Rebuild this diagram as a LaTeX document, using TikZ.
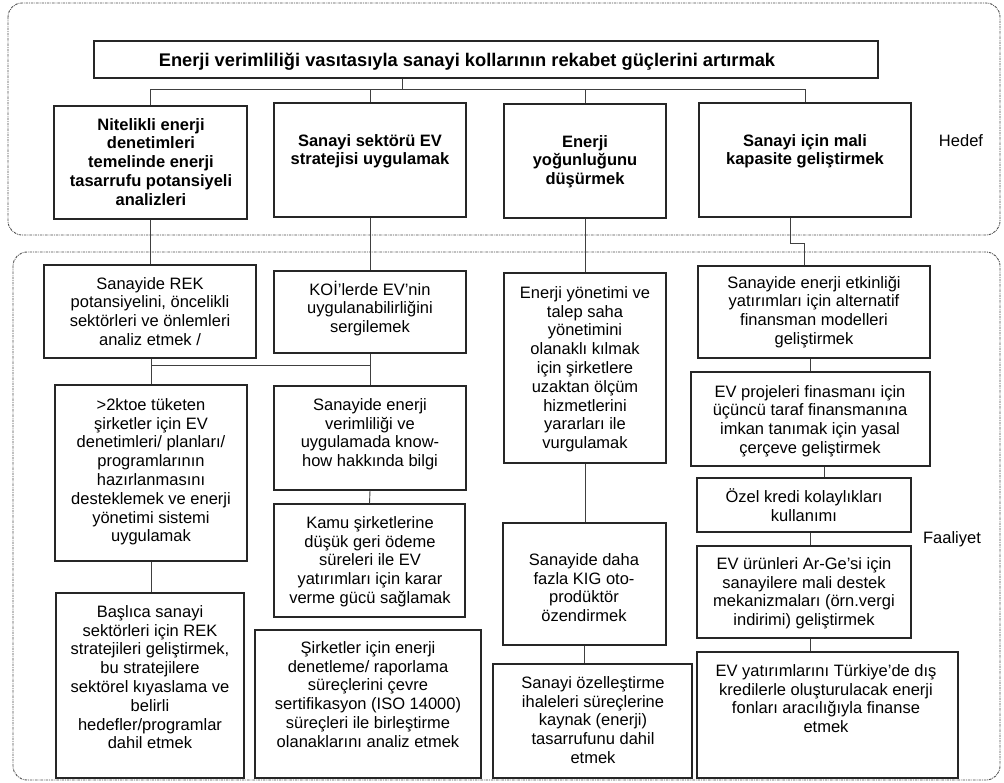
\documentclass[tikz,border=0pt]{standalone}
\usepackage{fontspec}
\setmainfont{Liberation Sans}
\tikzset{
 box/.style={draw=black!85, line width=1.1pt, inner sep=0pt, rectangle},
 txt/.style={inner sep=0pt, align=center, font=\fontsize{16.5}{18.8}\selectfont},
 btxt/.style={inner sep=0pt, align=center, font=\fontsize{16.5}{18.8}\selectfont\bfseries},
 ttxt/.style={inner sep=0pt, align=center, font=\fontsize{18.3}{20}\selectfont\bfseries},
 conn/.style={draw=black!75, line width=0.9pt},
 frame/.style={draw=black!70, line width=0.9pt, rounded corners=14pt, dash pattern=on 2.5pt off 1pt on 0.8pt off 1pt},
 lbl/.style={inner sep=0pt, font=\fontsize{16.5}{18.8}\selectfont, anchor=base},
}
% #1 text style, #2 name, #3 x1, #4 y1, #5 x2, #6 y2, #7 text centre x, #8 first baseline, #9 text
\newcommand\mybox[9][txt]{%
  \node[box, minimum width={(#5-#3)*1pt}, minimum height={(#6-#4)*1pt}] (#2) at ({(#3+#5)/2},{(#4+#6)/2}) {};
  \node[#1, anchor=north] (#2-t) at (#7,{#8-16}) {\rule{0pt}{16pt}#9};
}
\begin{document}
\begin{tikzpicture}[x=1pt,y=-1pt]
\useasboundingbox (0,0) rectangle (1004,783);
% frames
\draw[frame] (8,3) rectangle (1000,235);
\draw[frame] (13,252) rectangle (1000,780);
\node[lbl] (hedef) at (961,147) {Hedef};
\node[lbl] (faaliyet) at (952,543) {Faaliyet};
% goal boxes
\mybox[ttxt]{t}{94}{41}{878}{78}{467}{66}{Enerji verimliliği vasıtasıyla sanayi kollarının rekabet güçlerini artırmak}
\mybox[btxt]{h1}{54}{106}{247}{219}{151}{130}{Nitelikli enerji\\denetimleri\\temelinde enerji\\tasarrufu potansiyeli\\analizleri}
\mybox[btxt]{h2}{274}{103}{466}{217}{370}{146}{Sanayi sektörü EV\\stratejisi uygulamak}
\mybox[btxt]{h3}{504}{104}{666}{218}{585}{147}{Enerji\\yoğunluğunu\\düşürmek}
\mybox[btxt]{h4}{699}{103}{911}{217}{805}{146}{Sanayi için mali\\kapasite geliştirmek}
% activity boxes
\mybox{f1a}{44}{265}{256}{358}{150}{289}{Sanayide REK\\potansiyelini, öncelikli\\sektörleri ve önlemleri\\analiz etmek /}
\mybox{f2a}{274}{271}{466}{353}{370}{295}{KOİ’lerde EV’nin\\uygulanabilirliğini\\sergilemek}
\mybox{f1b}{55}{385}{247}{561}{151}{410}{>2ktoe tüketen\\şirketler için EV\\denetimleri/ planları/\\programlarının\\hazırlanmasını\\desteklemek ve enerji\\yönetimi sistemi\\uygulamak}
\mybox{f2b}{274}{386}{466}{490}{370}{410}{Sanayide enerji\\verimliliği ve\\uygulamada know-\\how hakkında bilgi}
\mybox{f2c}{274}{504}{465}{617}{370}{528}{Kamu şirketlerine\\düşük geri ödeme\\süreleri ile EV\\yatırımları için karar\\verme gücü sağlamak}
\mybox{f2d}{255}{630}{481}{778}{368}{653}{Şirketler için enerji\\denetleme/ raporlama\\süreçlerini çevre\\sertifikasyon (ISO 14000)\\süreçleri ile birleştirme\\olanaklarını analiz etmek}
\mybox{f1c}{56}{593}{244}{778}{150}{617}{Başlıca sanayi\\sektörleri için REK\\stratejileri geliştirmek,\\bu stratejilere\\sektörel kıyaslama ve\\belirli\\hedefler/programlar\\dahil etmek}
\mybox{f3a}{504}{273}{666}{463}{585}{298}{Enerji yönetimi ve\\talep saha\\yönetimini\\olanaklı kılmak\\için şirketlere\\uzaktan ölçüm\\hizmetlerini\\yararları ile\\vurgulamak}
\mybox{f3b}{503}{523}{666}{645}{584}{565}{Sanayide daha\\fazla KIG oto-\\prodüktör\\özendirmek}
\mybox{f3c}{493}{664}{692}{778}{593}{688}{Sanayi özelleştirme\\ihaleleri süreçlerine\\kaynak (enerji)\\tasarrufunu dahil\\etmek}
\mybox{f4a}{698}{266}{930}{358}{814}{288}{Sanayide enerji etkinliği\\yatırımları için alternatif\\finansman modelleri\\geliştirmek}
\mybox{f4b}{691}{372}{930}{466}{810}{397}{EV projeleri finasmanı için\\üçüncü taraf finansmanına\\imkan tanımak için yasal\\çerçeve geliştirmek}
\mybox{f4c}{697}{478}{911}{532}{804}{502}{Özel kredi kolaylıkları\\kullanımı}
\mybox{f4d}{697}{546}{911}{638}{804}{569}{EV ürünleri Ar-Ge’si için\\sanayilere mali destek\\mekanizmaları (örn.vergi\\indirimi) geliştirmek}
\mybox{f4e}{697}{652}{958}{778}{826}{676}{EV yatırımlarını Türkiye’de dış\\kredilerle oluşturulacak enerji\\fonları aracılığıyla finanse\\etmek}
% connectors: goals
\coordinate (bus) at (402,89);
\draw[conn] (t.south -| bus) -- (bus);
\draw[conn] (h1.north) |- (h4.north |- bus) -- (h4.north);
\draw[conn] (h2.north) -- (h2.north |- bus);
\draw[conn] (h3.north) -- (h3.north |- bus);
\draw[conn] (h1.south) -- (h1.south |- f1a.north);
\draw[conn] (h2.south) -- (f2a.north);
\draw[conn] (h3.south) -- (h3.south |- f3a.north);
\coordinate (j1) at (790,243);
\coordinate (j2) at (804,243);
\draw[conn] (h4.south -| j1) -- (j1) -- (j2) -- (j2 |- f4a.north);
% connectors: activities
\coordinate (bus2) at (0,365);
\draw[conn] (f1b.north |- f1a.south) -- (f1b.north);
\draw[conn] (f2a.south) -- (f2b.north);
\draw[conn] (f1b.north |- bus2) -- (f2b.north |- bus2);
\draw[conn] (f2b.south) -- (f2c.north);
\draw[conn] (f1b.south) -- (f1b.south |- f1c.north);
\draw[conn] (f3a.south) -- (f3a.south |- f3b.north);
\draw[conn] (f3b.south) -- (f3b.south |- f3c.north);
\coordinate (c4) at (810,0);
\coordinate (c4b) at (824,0);
\draw[conn] (f4a.south -| c4) -- (f4b.north -| c4);
\draw[conn] (f4b.south -| c4b) -- (f4c.north -| c4b);
\draw[conn] (f4c.south -| c4) -- (f4d.north -| c4);
\draw[conn] (f4d.south -| c4) -- (f4e.north -| c4);
\end{tikzpicture}
\end{document}
